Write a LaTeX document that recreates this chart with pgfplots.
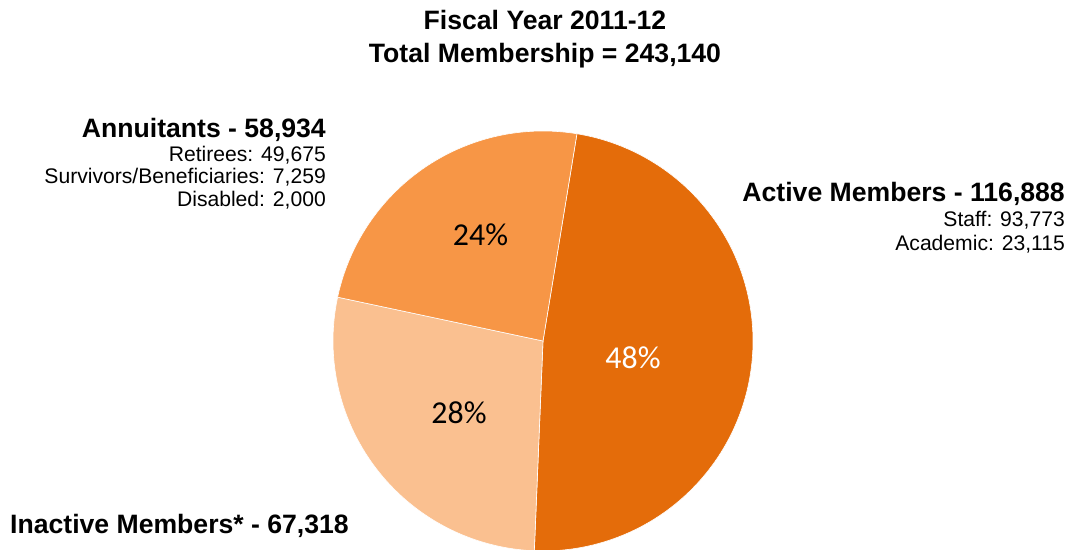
\documentclass[border=0pt]{standalone}
\usepackage{pgfplots}
\usepackage{pgfplotstable}
\usepackage{fontspec}
\pgfplotsset{compat=1.18}
\setmainfont{Liberation Sans}
\newfontfamily\calfont{Carlito}
\definecolor{cActive}{HTML}{E46C0A}
\definecolor{cInactive}{HTML}{FAC090}
\definecolor{cAnnu}{HTML}{F79646}
\pgfplotstableread{
cat value
Active 116888
Inactive 67318
Annuitants 58934
}\piedata
\newcommand{\bigb}{\fontsize{26.7}{30}\selectfont\bfseries}
\newcommand{\smalltxt}{\fontsize{21.2}{24}\selectfont}
\newcommand{\pct}{\calfont\fontsize{32}{36}\selectfont}
\begin{document}
\begin{tikzpicture}
\pgfplotstablegetelem{0}{value}\of\piedata \edef\va{\pgfplotsretval}
\pgfplotstablegetelem{1}{value}\of\piedata \edef\vb{\pgfplotsretval}
\pgfplotstablegetelem{2}{value}\of\piedata \edef\vc{\pgfplotsretval}
\edef\sA{80.7}
\edef\eA{\fpeval{round(\sA-360*\va/(\va+\vb+\vc),4)}}
\edef\eB{\fpeval{round(\eA-360*\vb/(\va+\vb+\vc),4)}}
\edef\eC{\fpeval{round(\eB-360*\vc/(\va+\vb+\vc),4)}}
\begin{axis}[
  width=1073bp, height=550bp, scale only axis,
  xmin=0, xmax=1073, ymin=0, ymax=550,
  hide axis, clip=true,
]
\addplot[fill=cActive, draw=white, line width=0.6pt, domain=\eA:\sA, samples=150]
  ({543+210*cos(x)},{209+210*sin(x)}) -- (axis cs:543,209) -- cycle;
\addplot[fill=cInactive, draw=white, line width=0.6pt, domain=\eB:\eA, samples=100]
  ({543+210*cos(x)},{209+210*sin(x)}) -- (axis cs:543,209) -- cycle;
\addplot[fill=cAnnu, draw=white, line width=0.6pt, domain=\eC:\eB, samples=100]
  ({543+210*cos(x)},{209+210*sin(x)}) -- (axis cs:543,209) -- cycle;

\node[anchor=base, text=white, font=\pct, inner sep=0] at (axis cs:633,181.7) {48\%};
\node[anchor=base, font=\pct, inner sep=0] at (axis cs:480.5,304.7) {24\%};
\node[anchor=base, font=\pct, inner sep=0] at (axis cs:459,126.7) {28\%};

\node[anchor=base, inner sep=0, font=\bigb] at (axis cs:545,520.4) {Fiscal Year 2011-12};
\node[anchor=base, inner sep=0, font=\bigb] at (axis cs:545,487.4) {Total Membership = 243,140};

\node[anchor=base east, inner sep=0, font=\bigb] at (axis cs:326,412.4) {Annuitants - 58,934};
\node[anchor=base east, inner sep=0, font=\smalltxt] at (axis cs:326,388.4) {Retirees: 49,675};
\node[anchor=base east, inner sep=0, font=\smalltxt] at (axis cs:326,366.4) {Survivors/Beneficiaries: 7,259};
\node[anchor=base east, inner sep=0, font=\smalltxt] at (axis cs:326,343.4) {Disabled: 2,000};

\node[anchor=base east, inner sep=0, font=\bigb] at (axis cs:1065,348.4) {Active Members - 116,888};
\node[anchor=base east, inner sep=0, font=\smalltxt] at (axis cs:1065,323.4) {Staff: 93,773};
\node[anchor=base east, inner sep=0, font=\smalltxt] at (axis cs:1065,299.4) {Academic: 23,115};

\node[anchor=base west, inner sep=0, font=\bigb] at (axis cs:10,16.4) {Inactive Members* - 67,318};
\end{axis}
\path (current axis.south west) rectangle (current axis.north east);
\end{tikzpicture}
\end{document}
